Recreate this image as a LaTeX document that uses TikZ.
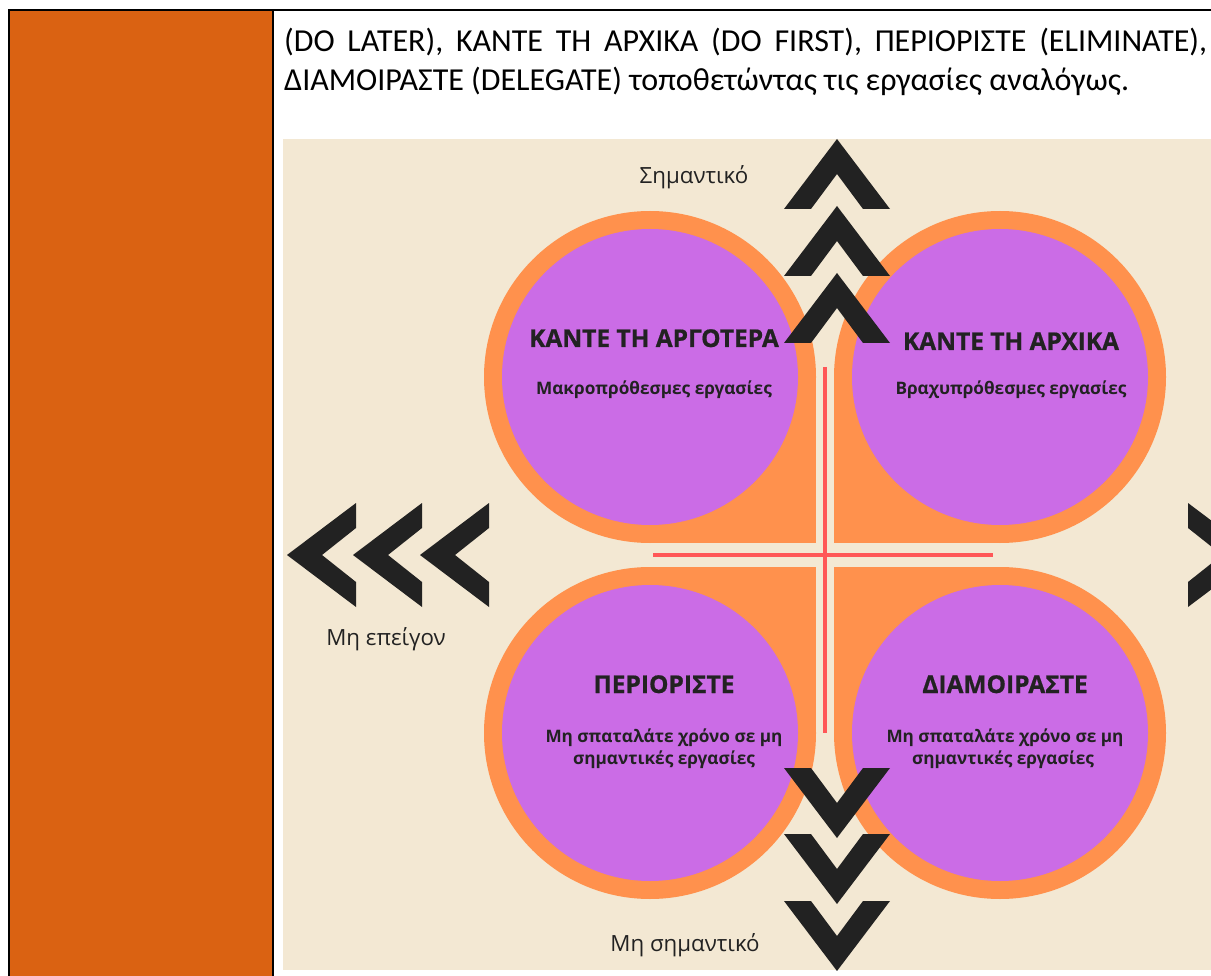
\documentclass[tikz,border=0pt]{standalone}
\usepackage{fontspec}
\setmainfont{Carlito}
\newfontfamily\osans{Open Sans}
\newfontfamily\osanshead[BoldFeatures={FakeBold=0.7}]{Open Sans}
\definecolor{cellorange}{RGB}{218,98,18}
\definecolor{beige}{RGB}{243,232,211}
\definecolor{ring}{RGB}{255,145,77}
\definecolor{purp}{RGB}{203,108,230}
\definecolor{redln}{RGB}{255,87,87}
\definecolor{dark}{RGB}{34,34,34}
\newcommand\chevup[2]{\fill[chev] ({#1-53},{#2+70}) -- (#1,#2) -- ({#1+53},{#2+70}) -- ({#1+26},{#2+70}) -- (#1,{#2+35}) -- ({#1-26},{#2+70}) -- cycle;}
\newcommand\chevdown[2]{\fill[chev] ({#1-53},#2) -- (#1,{#2+70}) -- ({#1+53},#2) -- ({#1+26},#2) -- (#1,{#2+35}) -- ({#1-26},#2) -- cycle;}
\newcommand\chevleft[2]{\fill[chev] (#1,#2) -- ({#1+69},{#2-52}) -- ({#1+69},{#2-27}) -- ({#1+35},#2) -- ({#1+69},{#2+27}) -- ({#1+69},{#2+52}) -- cycle;}
\newcommand\chevright[2]{\fill[chev] (#1,#2) -- ({#1-69},{#2-52}) -- ({#1-69},{#2-27}) -- ({#1-35},#2) -- ({#1-69},{#2+27}) -- ({#1-69},{#2+52}) -- cycle;}
\begin{document}
\begin{tikzpicture}[x=1pt,y=-1pt,
  chev/.style={fill=dark},
  ringshape/.style={fill=ring},
  disc/.style={fill=purp},
  crossln/.style={draw=redln,line width=4pt},
  headtxt/.style={anchor=base,inner sep=0pt,text=dark,font=\osanshead\bfseries\fontsize{24.5}{30}\selectfont},
  bodytxt/.style={anchor=base,inner sep=0pt,text=dark,font=\osans\bfseries\fontsize{17.2}{22}\selectfont},
  axistxt/.style={anchor=base,inner sep=0pt,text=dark,font=\osans\fontsize{22.3}{28}\selectfont},
  toptxt/.style={anchor=base west,inner sep=0pt,font=\fontsize{32}{39}\selectfont}]
\useasboundingbox (0,0) rectangle (1211,976);
\fill[white] (0,0) rectangle (1211,976);
% table cell
\fill[cellorange] (9,11) rectangle (273,976);
\draw[line width=2pt] (9,976) -- (9,10.5) -- (1211,10.5);
\draw[line width=2pt] (273,10.5) -- (273,976);
% top text
\node[toptxt] (l1) at (284,52) {\makebox[923pt][s]{(DO LATER), ΚΑΝΤΕ ΤΗ ΑΡΧΙΚΑ (DO FIRST), ΠΕΡΙΟΡΙΣΤΕ (ELIMINATE),}};
\node[toptxt] (l2) at (284,91) {ΔΙΑΜΟΙΡΑΣΤΕ (DELEGATE) τοποθετώντας τις εργασίες αναλόγως.};
% picture
\begin{scope}
\clip (283,139) rectangle (1211,970);
\fill[beige] (283,139) rectangle (1211,970);
% orange shapes
\fill[ringshape] (650,377) circle (166);
\fill[ringshape] (650,377) rectangle (816,543);
\fill[ringshape] (1000,377) circle (166);
\fill[ringshape] (834,377) rectangle (1000,543);
\fill[ringshape] (650,733) circle (166);
\fill[ringshape] (650,567) rectangle (816,733);
\fill[ringshape] (1000,733) circle (166);
\fill[ringshape] (834,567) rectangle (1000,733);
% purple discs
\fill[disc] (650,377) circle (148);
\fill[disc] (1000,377) circle (148);
\fill[disc] (650,733) circle (148);
\fill[disc] (1000,733) circle (148);
% red cross
\draw[crossln] (653,555) -- (993,555);
\draw[crossln] (825,367) -- (825,733);
% texts
\node[headtxt] (h1) at (654,347) {ΚΑΝΤΕ ΤΗ ΑΡΓΟΤΕΡΑ};
\node[bodytxt] (b1) at (654,395) {Μακροπρόθεσμες εργασίες};
\node[headtxt] (h2) at (1011,350) {ΚΑΝΤΕ ΤΗ ΑΡΧΙΚΑ};
\node[bodytxt] (b2) at (1011,395) {Βραχυπρόθεσμες εργασίες};
\node[headtxt] (h3) at (664,693) {ΠΕΡΙΟΡΙΣΤΕ};
\node[bodytxt] (b3a) at (664,742) {Μη σπαταλάτε χρόνο σε μη};
\node[bodytxt] (b3b) at (664,764) {σημαντικές εργασίες};
\node[headtxt] (h4) at (1005,693) {ΔΙΑΜΟΙΡΑΣΤΕ};
\node[bodytxt] (b4a) at (1005,742) {Μη σπαταλάτε χρόνο σε μη};
\node[bodytxt] (b4b) at (1003,764) {σημαντικές εργασίες};
\node[axistxt] (ax1) at (694,184) {Σημαντικό};
\node[axistxt] (ax2) at (386,645) {Μη επείγον};
\node[axistxt] (ax3) at (685,951) {Μη σημαντικό};
% chevrons
\chevup{837}{139}
\chevup{837}{206}
\chevup{837}{273}
\chevdown{837}{768}
\chevdown{837}{834}
\chevdown{837}{901}
\chevleft{287}{555}
\chevleft{353}{555}
\chevleft{420}{555}
\chevright{1257}{555}
\end{scope}
\end{tikzpicture}
\end{document}
